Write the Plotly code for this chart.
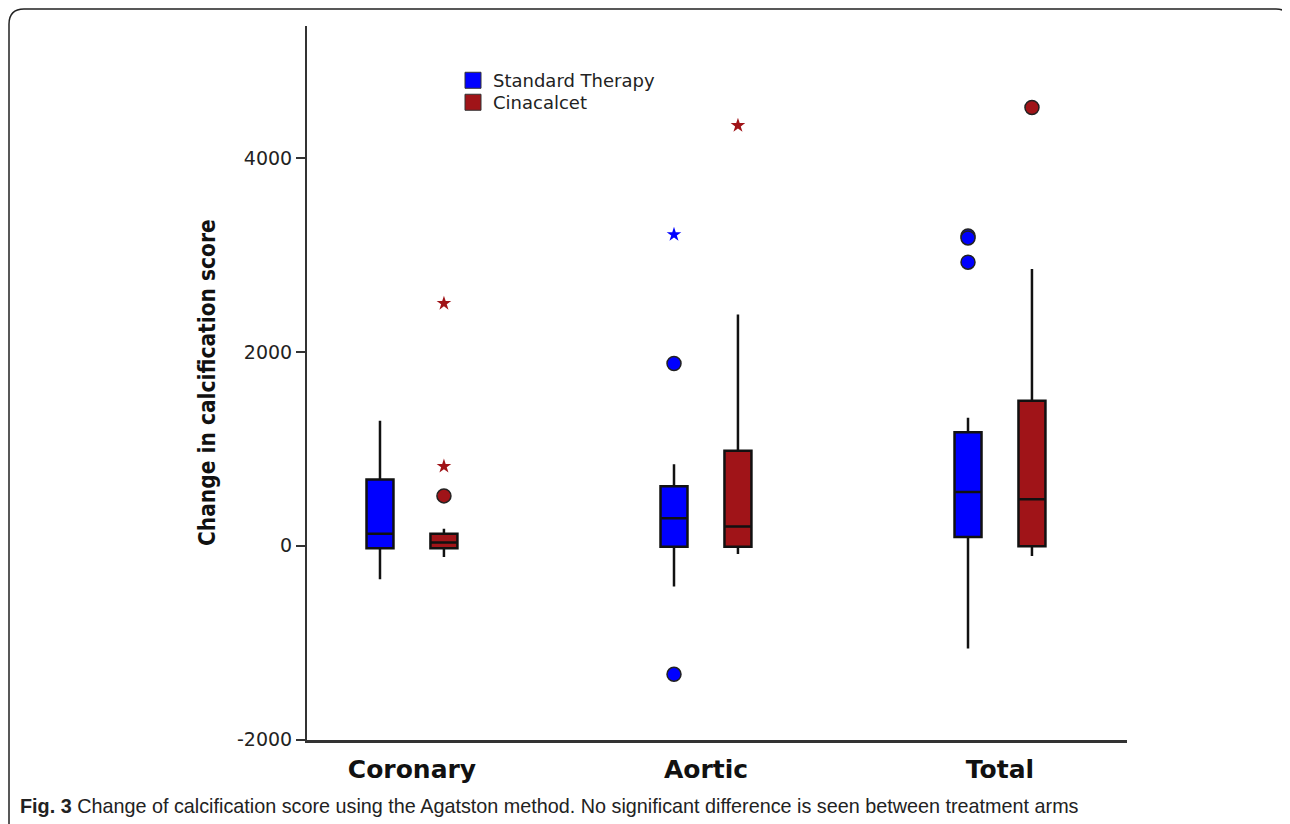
import plotly.graph_objects as go

# ---------------- data ----------------
categories = ["Coronary", "Aortic", "Total"]

std_q1 = [-25, -10, 90]
std_median = [125, 285, 555]
std_q3 = [685, 615, 1170]
std_lower = [-345, -420, -1060]
std_upper = [1290, 840, 1320]

cin_q1 = [-25, -10, -5]
cin_median = [35, 200, 480]
cin_q3 = [125, 980, 1495]
cin_lower = [-115, -85, -105]
cin_upper = [175, 2385, 2855]

std_out_cat = ["Aortic", "Aortic", "Aortic", "Total", "Total", "Total"]
std_out_val = [3210, 1880, -1325, 3195, 3175, 2925]
std_out_kind = ["extreme", "outlier", "outlier", "outlier", "outlier", "outlier"]

cin_out_cat = ["Coronary", "Coronary", "Coronary", "Aortic", "Total"]
cin_out_val = [2500, 820, 515, 4335, 4520]
cin_out_kind = ["extreme", "extreme", "outlier", "extreme", "outlier"]

y_ticks = [-2000, 0, 2000, 4000]
series_names = ["Standard Therapy", "Cinacalcet"]
caption = ("<b>Fig. 3</b> Change of calcification score using the Agatston method. "
           "No significant difference is seen between treatment arms")
y_title = "Change in calcification score"

# ---------------- style ----------------
PAGE_OFF = 8            # default body margin of the html page
VSCALE = 0.987          # vertical scale observed in the captured picture
W, H = 1290 - PAGE_OFF, 824 - PAGE_OFF
BLUE = "#0000FF"
RED = "#A01418"
DARK = "#222222"
SYM = {"outlier": "circle", "extreme": "star"}


def fx(px):
    return (px - PAGE_OFF) / W


def fy(py):
    return 1 - (py / VSCALE - PAGE_OFF) / H


fig = go.Figure()

for name, col, grp, q1, med, q3, lo, hi in [
    (series_names[0], BLUE, "std", std_q1, std_median, std_q3, std_lower, std_upper),
    (series_names[1], RED, "cin", cin_q1, cin_median, cin_q3, cin_lower, cin_upper),
]:
    fig.add_trace(go.Box(
        x=categories, q1=q1, median=med, q3=q3, lowerfence=lo, upperfence=hi,
        name=name, offsetgroup=grp, fillcolor=col,
        line=dict(color="#111111", width=2.5), whiskerwidth=0,
        boxpoints=False, showlegend=False, hoverinfo="skip",
    ))

for name, col, grp, cats, vals, kinds in [
    (series_names[0], BLUE, "std", std_out_cat, std_out_val, std_out_kind),
    (series_names[1], RED, "cin", cin_out_cat, cin_out_val, cin_out_kind),
]:
    syms = [SYM[k] for k in kinds]
    sizes = [14 if k == "outlier" else 11 for k in kinds]
    lw = [1.5 if k == "outlier" else 0 for k in kinds]
    fig.add_trace(go.Scatter(
        x=cats, y=vals, mode="markers", offsetgroup=grp, showlegend=False,
        marker=dict(symbol=syms, size=sizes, color=col, opacity=1,
                    line=dict(color=DARK, width=lw)),
        hoverinfo="skip",
    ))

# legend entries (square swatches), one legend per entry so rows sit tight
for name, col, grp, leg in [(series_names[0], BLUE, "std", "legend"),
                            (series_names[1], RED, "cin", "legend2")]:
    fig.add_trace(go.Scatter(
        x=[None], y=[None], mode="markers", name=name, offsetgroup=grp, legend=leg,
        marker=dict(symbol="square", size=18, color=col, line=dict(color="#333333", width=1)),
    ))

frame_path = (
    f"M {fx(9)},{fy(840)} L {fx(9)},{fy(24)} Q {fx(9)},{fy(9)} {fx(24)},{fy(9)} "
    f"L {fx(1276)},{fy(9)} Q {fx(1291)},{fy(9)} {fx(1291)},{fy(24)} L {fx(1291)},{fy(840)}"
)

legend_common = dict(xanchor="left", yanchor="middle", bgcolor="rgba(0,0,0,0)",
                     font=dict(size=18, color=DARK), itemsizing="trace")

fig.update_layout(
    width=W, height=H, autosize=False,
    margin=dict(l=0, r=0, t=0, b=0),
    paper_bgcolor="white", plot_bgcolor="white",
    boxmode="group", boxgap=0.565, boxgroupgap=0.578,
    scattermode="group", scattergap=0.565,
    font=dict(family="DejaVu Sans, Liberation Sans, Arial, sans-serif", color=DARK),
    showlegend=True,
    legend=dict(x=fx(453), y=fy(80.5), **legend_common),
    legend2=dict(x=fx(453), y=fy(102.5), **legend_common),
    xaxis=dict(
        domain=[fx(307), fx(1127)], range=[-0.357, 2.432],
        type="category", categoryorder="array", categoryarray=categories,
        showline=True, linecolor="#333333", linewidth=2.5,
        ticks="", showgrid=False, zeroline=False,
        tickfont=dict(family="DejaVu Sans, Liberation Sans, Arial", size=25, color="#111111", weight="bold"),
        ticklabelstandoff=6,
    ),
    yaxis=dict(
        domain=[fy(740), fy(25.5)], range=[-2000, 5365],
        tickvals=y_ticks, ticktext=[str(v) for v in y_ticks],
        showline=True, linecolor="#333333", linewidth=2,
        ticks="outside", ticklen=9, tickwidth=1.5, tickcolor="#333333",
        showgrid=False, zeroline=False,
        tickfont=dict(family="DejaVu Sans, Liberation Sans, Arial", size=19, color="#222222"),
        title=dict(text=y_title,
                   font=dict(family="Liberation Sans Narrow, DejaVu Sans Condensed, Arial Narrow, sans-serif",
                             size=22.5, color="#111111", weight="bold")),
    ),
    shapes=[dict(type="path", xref="paper", yref="paper", path=frame_path,
                 line=dict(color="#222222", width=1.5))],
    annotations=[dict(
        text=caption, x=fx(18), y=fy(806), xref="paper", yref="paper",
        xanchor="left", yanchor="middle", showarrow=False,
        font=dict(family="Liberation Sans, Arial, sans-serif", size=19.8, color="#222222"),
    )],
)

fig.write_html("out.html")
